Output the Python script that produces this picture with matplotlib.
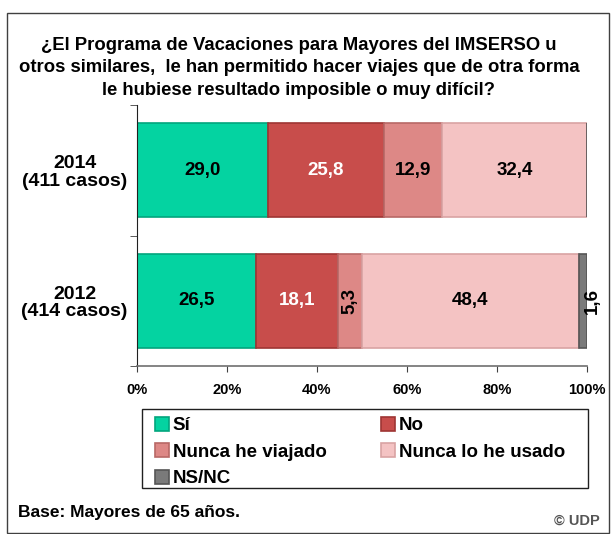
import matplotlib
matplotlib.use("Agg")
import matplotlib.pyplot as plt
from matplotlib.patches import Rectangle
import numpy as np

plt.rcParams['font.family'] = ['Liberation Sans', 'DejaVu Sans']
plt.rcParams['font.weight'] = 'bold'

categories = ["2012\n(414 casos)", "2014\n(411 casos)"]
series_names = ["Sí", "No", "Nunca he viajado", "Nunca lo he usado", "NS/NC"]
values_2012 = [26.5, 18.1, 5.3, 48.4, 1.6]
values_2014 = [29.0, 25.8, 12.9, 32.4, 0.0]
colors = ["#04D3A1", "#C84D4B", "#DD8886", "#F4C3C3", "#7A7A7A"]
edges = ["#02A57D", "#9E3533", "#B86866", "#D9A3A3", "#555555"]
label_colors = ["black", "white", "black", "black", "black"]
xticks = [0, 20, 40, 60, 80, 100]
xtick_labels = ["0%", "20%", "40%", "60%", "80%", "100%"]
title = ("¿El Programa de Vacaciones para Mayores del IMSERSO u\n"
         "otros similares,  le han permitido hacer viajes que de otra forma\n"
         "le hubiese resultado imposible o muy difícil?")

W, H = 614, 534
fig = plt.figure(figsize=(W / 100, H / 100), dpi=100)

def fx(px):
    return px / W

def fy(py):
    return 1 - py / H

# outer frame
fig.patches.append(Rectangle((fx(7), fy(533)), fx(609) - fx(7), fy(13) - fy(533),
                             transform=fig.transFigure, fill=False,
                             edgecolor="#404040", linewidth=1.0))
# legend frame
fig.patches.append(Rectangle((fx(142), fy(488)), fx(588) - fx(142), fy(409) - fy(488),
                             transform=fig.transFigure, fill=False,
                             edgecolor="#202020", linewidth=1.0))

ax = fig.add_axes([fx(137), fy(366), fx(587) - fx(137), fy(105) - fy(366)])

data = np.array([values_2012, values_2014])
ypos = np.arange(len(categories))
left = np.zeros(len(categories))
bar_h = 0.72
for i, name in enumerate(series_names):
    vals = data[:, i]
    ax.barh(ypos, vals, left=left, height=bar_h, color=colors[i],
            edgecolor=edges[i], linewidth=1.2, label=name)
    for j, v in enumerate(vals):
        if v <= 0:
            continue
        cx = left[j] + v / 2
        txt = f"{v:.1f}".replace(".", ",")
        if v < 3:
            ax.text(left[j] + v + 1.3, ypos[j], txt, rotation=90, ha="center",
                    va="center", fontsize=13.5, fontweight="bold", color="black")
        elif v < 8:
            ax.text(cx, ypos[j], txt, rotation=90, ha="center", va="center",
                    fontsize=13.5, fontweight="bold", color=label_colors[i])
        else:
            ax.text(cx, ypos[j], txt, ha="center", va="center",
                    fontsize=13.5, fontweight="bold", color=label_colors[i])
    left = left + vals

ax.set_xlim(0, 100)
ax.set_ylim(-0.5, 1.5)
ax.set_xticks(xticks)
ax.set_xticklabels(xtick_labels, fontsize=10.5, fontweight="bold")
ax.set_yticks(ypos)
ax.set_yticklabels(categories, fontsize=14, fontweight="bold", ha="center",
                   linespacing=1.05)
ax.tick_params(axis="y", which="major", length=0, pad=45)
ax.set_yticks([-0.5, 0.5, 1.5], minor=True)
ax.tick_params(axis="y", which="minor", length=5, color="#404040")
ax.tick_params(axis="x", length=4, color="#404040", pad=8)
for s in ["top", "right"]:
    ax.spines[s].set_visible(False)
ax.spines["left"].set_color("#202020")
ax.spines["bottom"].set_color("#707070")
ax.spines["bottom"].set_linewidth(1.2)

fig.text(fx(299), fy(68), title, ha="center", va="center", fontsize=13.3,
         fontweight="bold", linespacing=1.45)

handles, labels = ax.get_legend_handles_labels()
order = [0, 2, 4, 1, 3]
leg = fig.legend([handles[k] for k in order], [labels[k] for k in order],
                 loc="upper left", bbox_to_anchor=(fx(155), fy(417)),
                 ncol=2, fontsize=13.5, frameon=False,
                 handlelength=0.75, handleheight=0.75,
                 handletextpad=0.2, labelspacing=0.48, borderpad=0,
                 columnspacing=2.9, borderaxespad=0)
for t in leg.get_texts():
    t.set_fontweight("bold")

fig.text(fx(18), fy(513), "Base: Mayores de 65 años.", ha="left", va="center",
         fontsize=12.5, fontweight="bold")
fig.text(fx(600), fy(521), "© UDP", ha="right", va="center", fontsize=10.5,
         fontweight="bold", color="#555555")

fig.savefig("out.png", dpi=100)
